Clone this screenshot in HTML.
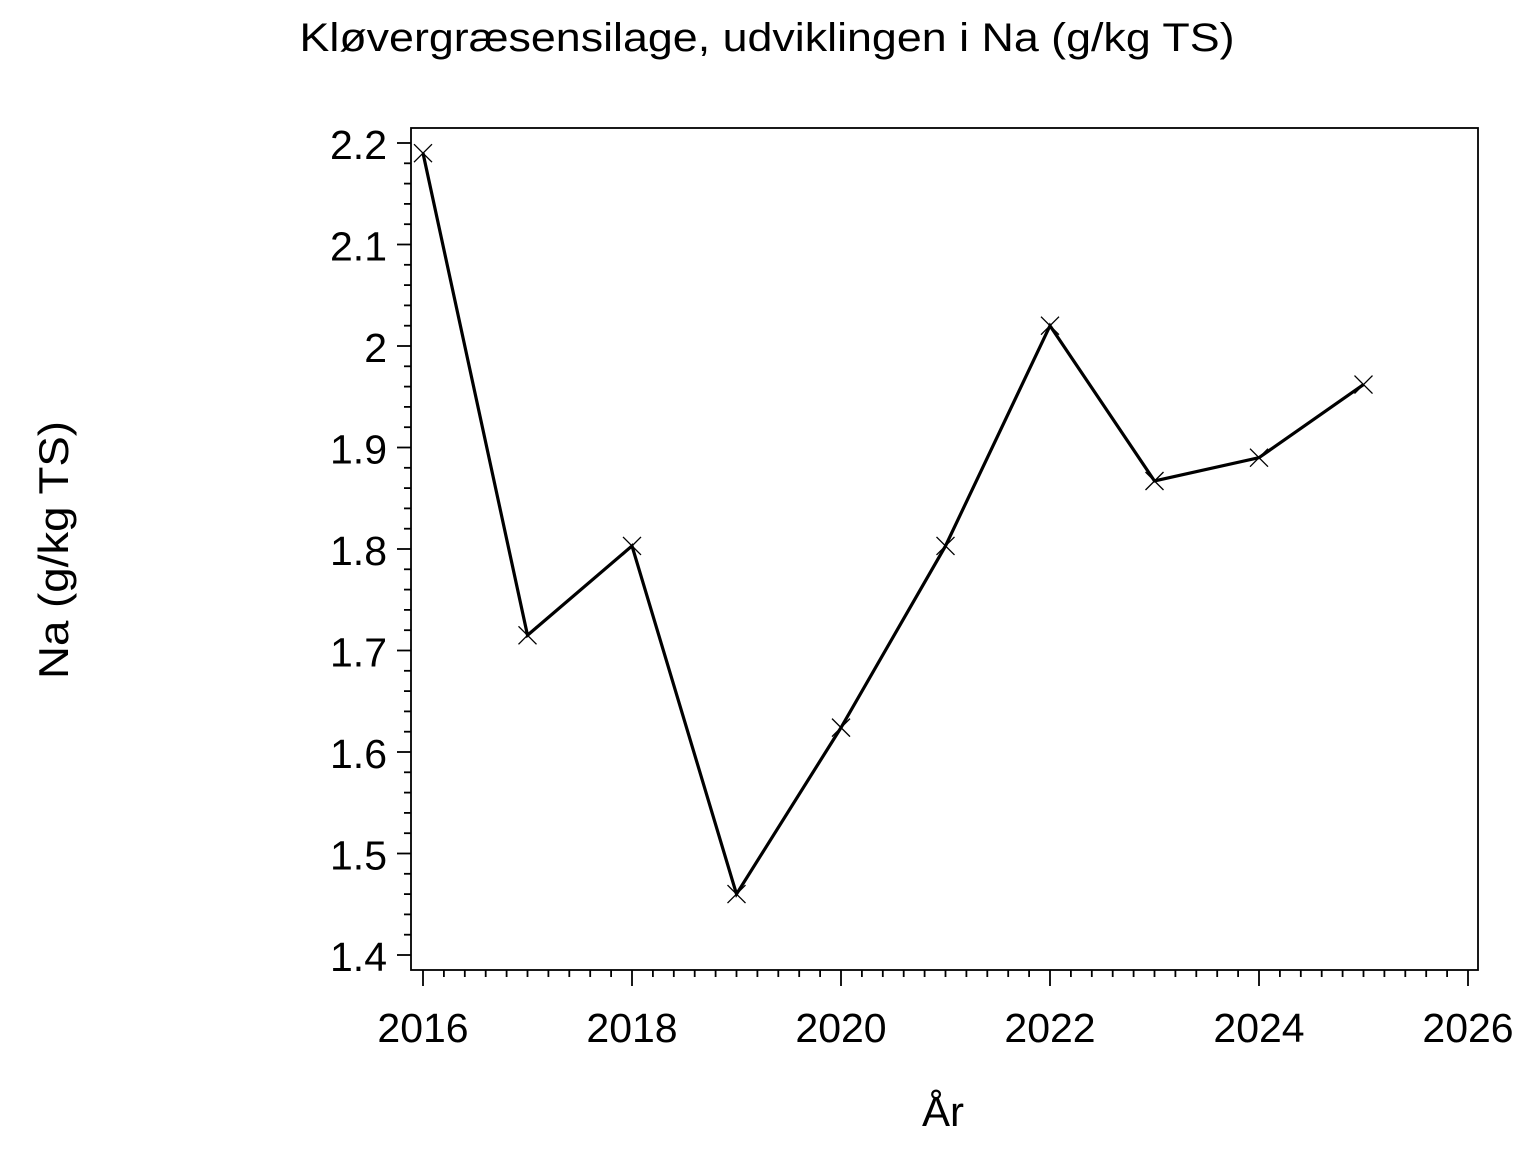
<!DOCTYPE html>
<html><head><meta charset="utf-8"><style>body{margin:0;background:#fff}svg{display:block}</style></head>
<body>
<svg width="1536" height="1152" xmlns="http://www.w3.org/2000/svg" font-family="Liberation Sans, Arial, sans-serif">
<rect width="1536" height="1152" fill="#fff"/>
<text x="767" y="51" font-size="40" text-anchor="middle" textLength="935" lengthAdjust="spacingAndGlyphs">Kløvergræsensilage,  udviklingen  i  Na  (g/kg  TS)</text>
<rect x="411" y="128" width="1067" height="842" fill="none" stroke="#000" stroke-width="1.8"/>
<g stroke="#000" stroke-width="1.8" id="yt"></g>
<g stroke="#000" stroke-width="1.8" id="xt"></g>
<g font-size="41" text-anchor="end" id="yl"></g>
<g font-size="41" text-anchor="middle" id="xl"></g>
<polyline id="ln" fill="none" stroke="#000" stroke-width="3.2"/>
<g id="mk" stroke="#000" stroke-width="1.3"></g>
<text transform="translate(68,550) rotate(-90)" font-size="42" text-anchor="middle" textLength="258" lengthAdjust="spacingAndGlyphs">Na  (g/kg  TS)</text>
<text x="943" y="1126" font-size="42" text-anchor="middle">År</text>
<script>
var ns="http://www.w3.org/2000/svg";
function Y(v){return 143+(2.2-v)*1015;}
function X(t){return 423+(t-2016)*104.5;}
function el(p,tag,a,txt){var e=document.createElementNS(ns,tag);for(var k in a)e.setAttribute(k,a[k]);if(txt)e.textContent=txt;document.getElementById(p).appendChild(e);}
for(var i=0;i<=40;i++){var v=1.4+i*0.02,y=Y(v),maj=i%5==0;el("yt","line",{x1:maj?397:404,x2:411,y1:y,y2:y});if(maj){var s=(Math.round(v*10)/10).toString();el("yl","text",{x:387,y:y+16},s);}}
for(var i=0;i<=50;i++){var t=2016+i*0.2,x=X(t),maj=i%10==0;el("xt","line",{x1:x,x2:x,y1:970,y2:maj?986:977});if(maj)el("xl","text",{x:x,y:1042},String(Math.round(t)));}
var d=[[2016,2.19],[2017,1.715],[2018,1.803],[2019,1.46],[2020,1.624],[2021,1.803],[2022,2.02],[2023,1.867],[2024,1.89],[2025,1.962]];
document.getElementById("ln").setAttribute("points",d.map(function(p){return X(p[0])+","+Y(p[1])}).join(" "));
d.forEach(function(p){var x=X(p[0]),y=Y(p[1]),r=9;el("mk","line",{x1:x-r,y1:y-r,x2:x+r,y2:y+r});el("mk","line",{x1:x-r,y1:y+r,x2:x+r,y2:y-r});});
</script>
</svg>
</body></html>
